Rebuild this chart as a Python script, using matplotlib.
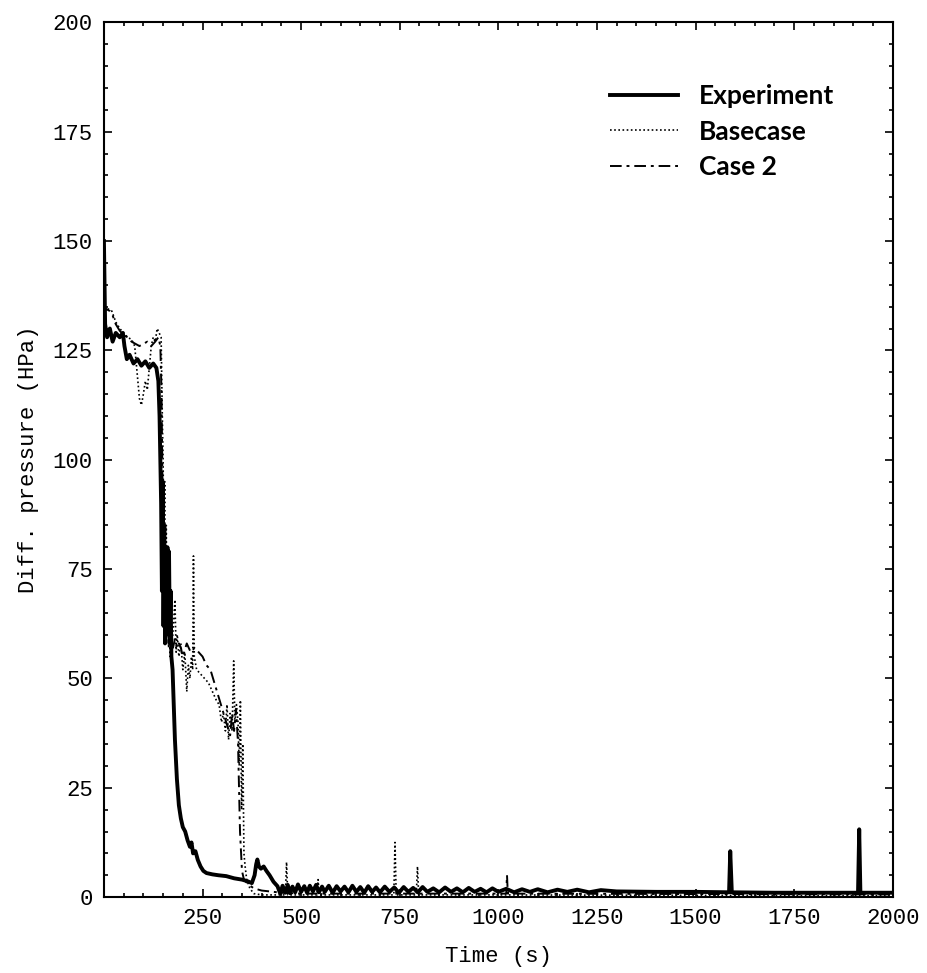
import matplotlib
matplotlib.use("Agg")
import matplotlib.pyplot as plt
from matplotlib.ticker import MultipleLocator

# values
exp_t = [0, 3, 8, 15, 22, 30, 40, 48, 52, 58, 65, 75, 85, 95, 105, 115, 125, 133,
         138, 141, 143, 145, 147, 149, 151, 153, 155, 157, 159, 161, 163, 165, 167,
         169, 171, 174, 177, 180, 185, 190, 195, 200, 206, 212, 218, 222, 226, 232,
         238, 245, 252, 260, 275, 290, 310, 330, 350, 365, 375, 382, 386, 389, 393,
         398, 405, 412, 420, 430, 440,
         447, 453, 460, 466, 472, 478, 485, 492, 500, 508,
         515, 522, 530, 538, 545, 553, 560, 570, 580, 590,
         600, 610, 620, 630, 640, 650, 660, 670, 680, 690,
         700, 712, 724, 736, 748, 760, 772, 784, 796, 808,
         820, 835, 850, 865, 880, 895, 910, 925, 940, 955,
         970, 985, 1000, 1020, 1040, 1060, 1080, 1100, 1125, 1150,
         1175, 1200, 1230, 1260, 1300, 1400, 1500, 1585, 1588, 1592,
         1700, 1800, 1912, 1915, 1918, 2000]
exp_p = [150, 131, 128, 130, 127, 129, 128, 129, 126, 123, 124, 122, 123, 121.5,
         122.5, 121, 122, 121,
         118, 110, 100, 90, 70, 95, 62, 85, 58, 75, 60, 80, 68, 79, 60,
         70, 55, 52, 44, 36, 27, 21, 18, 16, 15, 13, 11.5, 12.5, 10, 10.5,
         8.5, 7, 6, 5.5, 5.2, 5, 4.8, 4.3, 4, 3.6, 3.2, 5, 7.5, 8.6, 7,
         6.5, 7, 6, 5, 3.5, 2.5,
         0.8, 2.6, 1.0, 2.8, 0.9, 2.4, 1.1, 2.9, 1.2, 2.5,
         1.0, 2.6, 1.3, 2.8, 1.1, 2.4, 1.2, 2.6, 1.0, 2.5,
         1.3, 2.4, 1.1, 2.6, 1.2, 2.3, 1.0, 2.5, 1.2, 2.2,
         1.1, 2.4, 1.2, 2.2, 1.0, 2.3, 1.2, 2.1, 1.1, 2.3,
         1.2, 2.0, 1.1, 2.2, 1.2, 2.0, 1.1, 2.1, 1.2, 1.9,
         1.1, 2.0, 1.2, 1.9, 1.1, 1.8, 1.2, 1.8, 1.1, 1.7,
         1.2, 1.7, 1.1, 1.6, 1.3, 1.2, 1.2, 1.1, 10.5, 1.1,
         1.0, 1.0, 1.0, 15.5, 1.0, 1.0]

base_t = [0, 10, 20, 30, 40, 50, 60, 70, 78, 84, 90, 95, 100, 105, 110, 115, 120,
          125, 130, 135, 140, 145, 148, 150, 152, 154, 156, 158, 160, 162, 164, 166,
          168, 170, 173, 176, 180, 183, 186, 190, 195, 200, 205, 210, 214, 218, 222,
          225, 227, 229, 235, 245, 255, 265, 275, 285, 292, 298, 303, 308, 312, 316,
          320, 325, 329, 332, 336, 340, 343, 346, 349, 352, 355, 358, 362, 370, 380,
          400, 460, 463, 466, 540, 543, 546, 735, 738, 741, 792, 795, 798, 1000, 2000]
base_p = [135, 134.5, 134, 131.5, 130, 129, 128, 127.5, 126, 120, 114, 112.5, 115,
          118, 116, 121, 126, 128, 127, 130, 129, 128, 110, 100, 80, 95, 60, 85, 62,
          75, 57, 70, 55, 66, 58, 62, 68, 56, 60, 55, 58, 52, 56, 47, 53, 50, 55, 52,
          78, 55, 52, 51, 50, 49, 47, 45, 44, 40, 42, 38, 44, 36, 42, 38, 54, 40, 44,
          40, 30, 45, 20, 35, 10, 7, 4, 2, 0.8, 0.5, 0.5, 8, 0.5, 0.5, 4, 0.5, 0.5,
          12.5, 0.5, 0.5, 7, 0.5, 0.5, 0.3]

case2_t = [0, 5, 15, 22, 30, 40, 50, 60, 70, 80, 90, 100, 110, 120, 130, 138, 143,
           146, 149, 152, 155, 158, 161, 164, 167, 170, 175, 180, 185, 190, 195, 200,
           210, 220, 230, 240, 250, 260, 270, 280, 290, 300, 310, 320, 325, 330, 335,
           340, 345, 350, 355, 365, 380, 400, 450, 500, 1020, 1022, 1024, 2000]
case2_p = [133, 134.5, 134, 133, 131, 129.5, 128.5, 128, 127, 126.5, 126, 126.5,
           127, 126, 127, 128, 126, 115, 90, 70, 80, 62, 72, 58, 68, 60, 57, 59, 57,
           58, 57, 55, 58, 56, 57, 56, 55, 53, 52, 49, 46, 43, 40, 37, 42, 38, 43, 35,
           15, 6, 4, 3, 2, 1.5, 1, 0.8, 0.8, 5, 0.8, 0.6]

mono = "Liberation Mono"

fig = plt.figure(figsize=(9.28, 9.73), dpi=100)
ax = fig.add_axes([0.112, 0.078, 0.850, 0.899])

ax.plot(exp_t, exp_p, color="black", linewidth=2.8, label="Experiment")
ax.plot(base_t, base_p, color="black", linewidth=1.2, linestyle=(0, (1, 1.5)),
        label="Basecase")
ax.plot(case2_t, case2_p, color="black", linewidth=1.4,
        linestyle=(0, (6, 2.5, 1.5, 2.5)), label="Case 2")

ax.set_xlim(0, 2000)
ax.set_ylim(0, 200)
ax.set_xticks([250, 500, 750, 1000, 1250, 1500, 1750, 2000])
ax.yaxis.set_major_locator(MultipleLocator(25))
ax.xaxis.set_minor_locator(MultipleLocator(50))
ax.yaxis.set_minor_locator(MultipleLocator(5))
ax.tick_params(which="both", direction="in", top=True, right=True, width=1.2)
ax.tick_params(which="major", length=6, labelsize=16, pad=8)
ax.tick_params(which="minor", length=3)
for lab in ax.get_xticklabels() + ax.get_yticklabels():
    lab.set_fontfamily(mono)
for sp in ax.spines.values():
    sp.set_linewidth(1.5)

ax.set_xlabel("Time (s)", fontsize=16, fontfamily=mono, labelpad=12)
ax.set_ylabel("Diff. pressure (HPa)", fontsize=16, fontfamily=mono, labelpad=10)

ax.legend(loc="upper left", bbox_to_anchor=(0.611, 0.957), frameon=False,
          prop={"family": "Lato", "weight": "bold", "size": 19},
          handlelength=2.6, handletextpad=0.8, labelspacing=0.45)

plt.savefig("out.png", dpi=100)
